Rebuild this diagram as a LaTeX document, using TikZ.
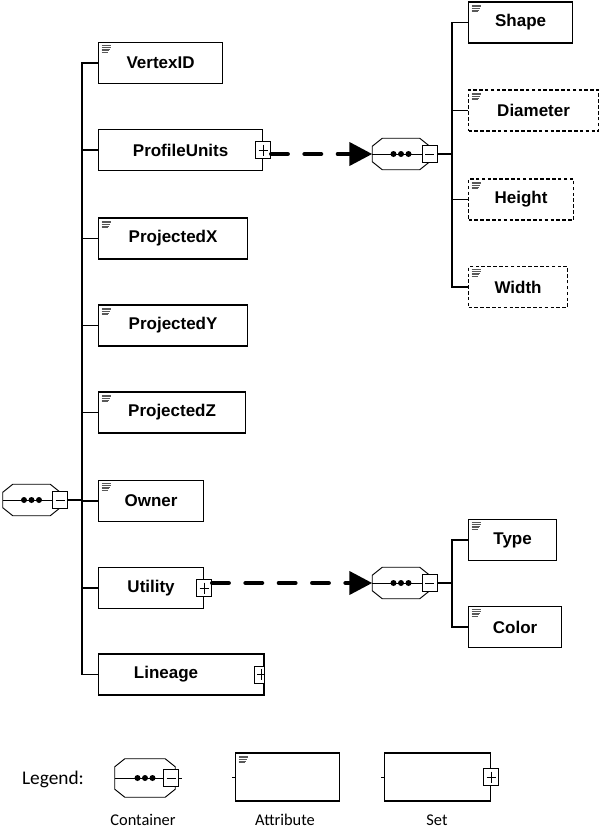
\documentclass[tikz,border=0pt]{standalone}
\usepackage{fontspec}
\usepackage{tikz}
\usetikzlibrary{arrows.meta}
\newfontfamily\boxfont{Liberation Sans}
\newfontfamily\legfont{Carlito}
\newcommand\pxl{0.03cm}

\tikzset{
  setbox/.style={draw,line width=1pt,anchor=west,inner sep=0pt,minimum height=41*\pxl,
    font=\boxfont\bfseries\fontsize{14.5}{17}\selectfont},
  attr/.style={setbox,path picture={
    \foreach \k/\w in {0/9,1/9,2/8,3/7,4/6}
      \draw[solid,black!65,line width=0.6pt] ([xshift=3*\pxl,yshift={-(3+\k*1.7)*\pxl}]path picture bounding box.north west) -- ++(\w*\pxl,0);}},
  optattr/.style={attr,dash pattern=on 3pt off 2pt},
  cont/.style={inner sep=0pt,minimum width=57*\pxl,minimum height=31*\pxl},
  smallbox/.style={draw,fill=white,line width=0.8pt,inner sep=0pt,minimum width=15*\pxl,minimum height=17*\pxl},
  plusbox/.style={smallbox,path picture={
    \draw[line width=0.8pt] ([yshift=-3*\pxl]path picture bounding box.north) -- ([yshift=3*\pxl]path picture bounding box.south);
    \draw[line width=0.8pt] ([xshift=3*\pxl]path picture bounding box.west) -- ([xshift=-3*\pxl]path picture bounding box.east);}},
  minusbox/.style={smallbox,path picture={
    \draw[line width=0.8pt] ([xshift=3*\pxl]path picture bounding box.west) -- ([xshift=-3*\pxl]path picture bounding box.east);}},
  branch/.style={line width=1pt},
  link/.style={line width=3.6pt,line cap=round,dash pattern=on 0.5cm off 0.5cm,-{Triangle[length=0.69cm,width=0.69cm]}},
  legtxt/.style={font=\legfont\fontsize{14}{17}\selectfont}
}

% container: name, position, extra style, shift of minus box
\newcommand\container[4]{%
  \node[cont,#3] (#1) at (#2) {};
  \draw[line width=0.8pt] ([xshift=10*\pxl]#1.north west) -- ([xshift=-10*\pxl]#1.north east)
    -- ([yshift=-8*\pxl]#1.north east) -- ([yshift=8*\pxl]#1.south east)
    -- ([xshift=-10*\pxl]#1.south east) -- ([xshift=10*\pxl]#1.south west)
    -- ([yshift=8*\pxl]#1.south west) -- ([yshift=-8*\pxl]#1.north west) -- cycle;
  \node[minusbox,anchor=west] (#1m) at ([xshift=#4*\pxl]#1.east) {};
  \draw[line width=0.8pt] (#1.west) -- (#1m.west);
  \foreach \d in {-7.5,0,7.5}
    \fill ([xshift=\d*\pxl]#1.center) circle (3*\pxl);
}

\begin{document}
\begin{tikzpicture}[x=0.03cm,y=-0.03cm]
\useasboundingbox (0,0) rectangle (600,828);

% root and its members
\container{root}{31.5,500}{}{-8}
\node[attr,minimum width=124*\pxl] (vid) at (98,63) {VertexID};
\node[setbox,minimum width=164*\pxl] (pu) at (98,150) {ProfileUnits};
\node[plusbox] (pup) at (pu.east) {};
\node[attr,minimum width=149*\pxl] (px) at (98,238.5) {ProjectedX};
\node[attr,minimum width=149*\pxl] (py) at (98,325.5) {ProjectedY};
\node[attr,minimum width=147*\pxl] (pz) at (98,412.5) {ProjectedZ};
\node[attr,minimum width=105*\pxl] (own) at (98,501) {Owner};
\node[setbox,minimum width=105*\pxl] (ut) at (98,588) {Utility};
\node[plusbox] (utp) at (ut.east) {};
\node[setbox,minimum width=165*\pxl] (lin) at (98,674.5) {Lineage\hspace*{0.9cm}};
\begin{scope}
  \clip (lin.north west) rectangle (lin.south east);
  \node[plusbox] (linp) at ([xshift=-2.5*\pxl]lin.east) {};
\end{scope}
\draw[line width=1pt] (lin.north east) -- (lin.south east);
\coordinate (mt) at (82,500);
\draw[branch] (rootm.east) -- (mt);
\foreach \n in {vid,pu,px,py,pz,own,ut,lin}
  \draw[branch] (\n.west) -| (mt);

% profile units
\container{pc}{401,154}{}{-8}
\node[attr,minimum width=104*\pxl] (shp) at (468,22.5) {Shape};
\node[optattr,minimum width=130*\pxl] (dia) at (468,110.5) {Diameter};
\node[optattr,minimum width=105*\pxl] (hgt) at (468,199.5) {Height};
\node[optattr,minimum width=99*\pxl] (wid) at (468,287) {Width};
\coordinate (pt) at (452,154);
\draw[branch] (pcm.east) -- (pt);
\foreach \n in {shp,dia,hgt,wid}
  \draw[branch] (\n.west) -| (pt);

% utility
\container{uc}{401,583}{}{-8}
\node[attr,minimum width=88*\pxl] (typ) at (468,540) {Type};
\node[attr,minimum width=93*\pxl] (col) at (468,627) {Color};
\coordinate (ukt) at (452,583);
\draw[branch] (ucm.east) -- (ukt);
\foreach \n in {typ,col}
  \draw[branch] (\n.west) -| (ukt);

% links
\draw[link] (pup.east |- pc.west) -- (pc.west);
\draw[link] (utp.east |- uc.west) -- (uc.west);

% legend
\node[legtxt,font=\legfont\fontsize{16.5}{19}\selectfont] (leg) at (53,779) {Legend:};
\container{lc}{145,778}{minimum width=60*\pxl,minimum height=38*\pxl}{-12}
\draw[line width=0.8pt] (lcm.east) -- ++(3*\pxl,0);
\node[attr,minimum width=104*\pxl,minimum height=48*\pxl] (la) at (235,777) {};
\draw[line width=0.8pt] (la.west) -- ++(-3*\pxl,0);
\node[setbox,minimum width=106*\pxl,minimum height=48*\pxl] (ls) at (384,777) {};
\draw[line width=0.8pt] (ls.west) -- ++(-3*\pxl,0);
\node[plusbox] (lsp) at (ls.east) {};
\node[legtxt] (lcl) at (143,820) {Container};
\node[legtxt] (lal) at (285,820) {Attribute};
\node[legtxt] (lsl) at (437,820) {Set};
\end{tikzpicture}
\end{document}
